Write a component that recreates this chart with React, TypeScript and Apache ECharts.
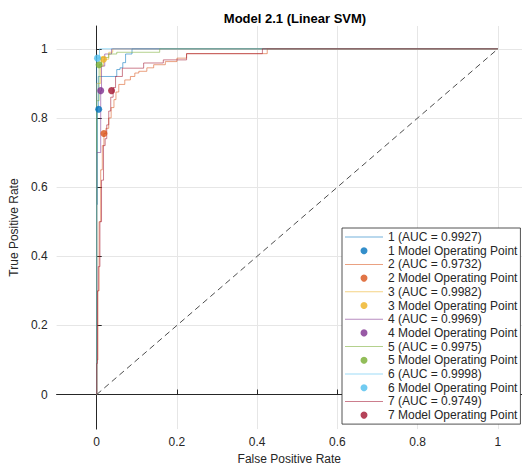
import React, { useEffect, useRef } from "react";
import * as echarts from "echarts";

// ROC vertices: at FPR x[i], TPR rises to y[i]
const roc1X = [0, 0, 0.002, 0.004, 0.05, 0.058, 0.065, 0.072, 0.088, 1];
const roc1Y = [0, 0.55, 0.83, 0.92, 0.94, 0.945, 0.96, 0.985, 1, 1];
const roc2X = [0, 0, 0.003, 0.006, 0.01, 0.014, 0.018, 0.023, 0.03, 0.036, 0.043, 0.048, 0.055, 0.07, 0.084, 0.095, 0.105, 0.125, 0.142, 0.171, 0.2, 0.224, 0.425, 1];
const roc2Y = [0, 0.1, 0.3, 0.5, 0.65, 0.72, 0.755, 0.77, 0.8, 0.83, 0.853, 0.875, 0.897, 0.91, 0.92, 0.93, 0.935, 0.945, 0.954, 0.963, 0.973, 0.986, 1, 1];
const roc3X = [0, 0, 0.01, 0.017, 0.03, 0.04, 1];
const roc3Y = [0, 0.9, 0.95, 0.97, 0.99, 1, 1];
const roc4X = [0, 0, 0.01, 0.012, 0.02, 0.037, 1];
const roc4Y = [0, 0.7, 0.879, 0.95, 0.985, 1, 1];
const roc5X = [0, 0, 0.006, 0.012, 0.03, 0.05, 0.157, 1];
const roc5Y = [0, 0.85, 0.954, 0.975, 0.985, 0.99, 1, 1];
const roc6X = [0, 0, 0.007, 1];
const roc6Y = [0, 0.973, 1, 1];
const roc7X = [0, 0, 0.002, 0.004, 0.008, 0.012, 0.017, 0.021, 0.025, 0.03, 0.035, 0.041, 0.047, 0.064, 0.117, 0.166, 0.224, 0.413, 1];
const roc7Y = [0, 0.09, 0.3, 0.37, 0.5, 0.62, 0.72, 0.74, 0.78, 0.82, 0.86, 0.888, 0.92, 0.944, 0.959, 0.968, 0.986, 1, 1];

const aucValues = [0.9927, 0.9732, 0.9982, 0.9969, 0.9975, 0.9998, 0.9749];
const opFpr = [0.005, 0.018, 0.017, 0.01, 0.006, 0.002, 0.037];
const opTpr = [0.825, 0.755, 0.97, 0.879, 0.954, 0.973, 0.879];
const tickValues = [0, 0.2, 0.4, 0.6, 0.8, 1];

const rocX = [roc1X, roc2X, roc3X, roc4X, roc5X, roc6X, roc7X];
const rocY = [roc1Y, roc2Y, roc3Y, roc4Y, roc5Y, roc6Y, roc7Y];
const colorsRGB = [
  [0, 114, 189],
  [217, 83, 25],
  [237, 177, 32],
  [126, 47, 142],
  [119, 172, 48],
  [77, 190, 238],
  [162, 20, 47],
];

function stairs(xs: number[], ys: number[]) {
  const pts: number[][] = [[xs[0], ys[0]]];
  for (let i = 1; i < xs.length; i++) {
    pts.push([xs[i], ys[i - 1]]);
    pts.push([xs[i], ys[i]]);
  }
  return pts;
}

const FONT = "Liberation Sans, Arial, Helvetica, sans-serif";
const LINE_ICON = "path://M0 0H40V1.1H0Z";

export default function App() {
  const ref = useRef<HTMLDivElement>(null);
  useEffect(() => {
    if (!ref.current) return;
    const chart = echarts.init(ref.current, null, { renderer: "svg" });
    const series: any[] = [];
    const legendData: any[] = [];
    for (let i = 0; i < 7; i++) {
      const [r, g, b] = colorsRGB[i];
      const lineName = `${i + 1} (AUC = ${aucValues[i].toFixed(4)})`;
      const ptName = `${i + 1} Model Operating Point`;
      legendData.push({ name: lineName, icon: LINE_ICON }, { name: ptName, icon: "circle" });
      series.push({
        type: "line",
        name: lineName,
        data: stairs(rocX[i], rocY[i]),
        symbol: "none",
        showSymbol: false,
        color: `rgba(${r},${g},${b},0.55)`,
        itemStyle: { color: `rgba(${r},${g},${b},0.55)` },
        lineStyle: { width: 1, color: `rgba(${r},${g},${b},0.55)` },
        z: 2,
      });
      series.push({
        type: "scatter",
        name: ptName,
        data: [[opFpr[i], opTpr[i]]],
        symbol: "circle",
        symbolSize: 7,
        color: `rgb(${r},${g},${b})`,
        itemStyle: { color: `rgb(${r},${g},${b})` },
        z: 4,
      });
    }
    series.push({
      type: "line",
      name: "diag",
      data: [
        [0, 0],
        [1, 1],
      ],
      symbol: "none",
      lineStyle: { width: 1, color: "#4d4d4d", type: [6, 4] },
      z: 3,
    });

    chart.setOption({
      animation: false,
      backgroundColor: "#ffffff",
      title: {
        text: "Model 2.1 (Linear SVM)",
        left: 290,
        top: 7,
        textAlign: "center",
        textStyle: { fontFamily: FONT, fontSize: 13, fontWeight: "bold", color: "#000" },
      },
      grid: { left: 52, right: 0, top: 26, bottom: 38, containLabel: false },
      xAxis: {
        type: "value",
        min: -0.1,
        max: 1.06,
        name: "False Positive Rate",
        nameLocation: "middle",
        nameGap: 22,
        nameTextStyle: { fontFamily: FONT, fontSize: 12, color: "#262626" },
        axisLine: { show: true, lineStyle: { color: "#262626", width: 1 } },
        axisTick: { show: true, inside: true, length: 5, customValues: tickValues, lineStyle: { color: "#262626" } },
        axisLabel: { customValues: tickValues, margin: 7, fontFamily: FONT, fontSize: 12, color: "#262626" },
        splitLine: { show: true, lineStyle: { color: "#e6e6e6", width: 1 } },
      },
      yAxis: {
        type: "value",
        min: -0.1,
        max: 1.066,
        name: "True Positive Rate",
        nameLocation: "middle",
        nameGap: 32,
        nameTextStyle: { fontFamily: FONT, fontSize: 12, color: "#262626" },
        axisLine: { show: true, lineStyle: { color: "#262626", width: 1 } },
        axisTick: { show: true, inside: true, length: 5, customValues: tickValues, lineStyle: { color: "#262626" } },
        axisLabel: { customValues: tickValues, margin: 9, fontFamily: FONT, fontSize: 12, color: "#262626" },
        splitLine: { show: true, lineStyle: { color: "#e6e6e6", width: 1 } },
      },
      legend: {
        data: legendData,
        orient: "vertical",
        left: 342,
        top: 228,
        itemWidth: 38,
        itemHeight: 7,
        itemGap: 1.7,
        padding: [3, 3, 3, 3],
        align: "left",
        borderColor: "#262626",
        borderWidth: 0.8,
        backgroundColor: "#ffffff",
        selectedMode: false,
        textStyle: { fontFamily: FONT, fontSize: 12, color: "#262626", lineHeight: 12 },
      },
      series,
    });
    return () => chart.dispose();
  }, []);
  return (
    <div
      ref={ref}
      style={{ position: "fixed", left: 0, top: 0, width: 522, height: 470 }}
    />
  );
}
